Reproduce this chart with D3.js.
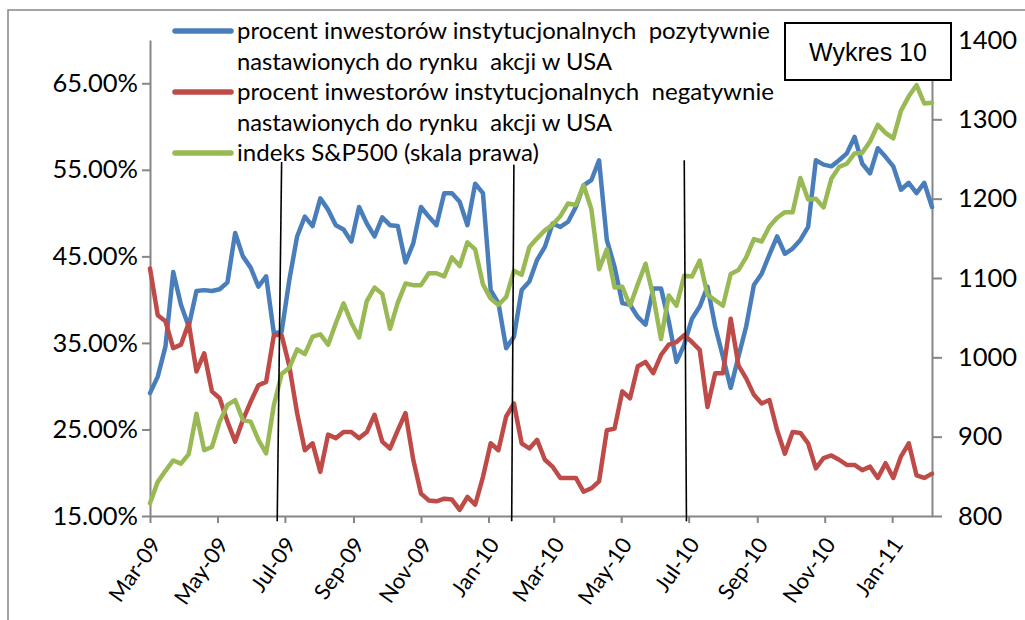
<!DOCTYPE html>
<html>
<head>
<meta charset="utf-8">
<script src="https://cdn.jsdelivr.net/npm/d3@7"></script>
<style>
  html, body { margin: 0; padding: 0; background: #ffffff; }
  svg { display: block; }
</style>
</head>
<body>
<svg id="chart" width="1025" height="620"></svg>
<script>
// ---------- data (weekly observations) ----------
const startDate = "2009-03-01";       // first weekly observation on the date axis
const axisEndDate = "2011-02-06";     // end of the date axis

// percent of institutional investors bullish on US equities (left axis)
const bullish = [
  29.2, 31.1, 34.6, 43.2, 39.4, 36.9, 41.0, 41.1, 41.0, 41.2,
  42.0, 47.7, 45.0, 43.7, 41.5, 42.7, 36.1, 36.3, 42.3, 47.3,
  49.6, 48.5, 51.7, 50.4, 48.6, 48.1, 46.7, 50.7, 48.8, 47.3,
  49.5, 48.6, 48.5, 44.3, 46.5, 50.7, 49.6, 48.6, 52.3, 52.3,
  51.3, 48.6, 53.4, 52.3, 41.1, 39.6, 34.4, 35.7, 41.1, 42.1,
  44.6, 46.1, 48.8, 48.4, 49.0, 50.7, 53.2, 53.8, 56.1, 46.9,
  43.8, 39.6, 39.4, 38.0, 37.1, 41.3, 41.3, 37.5, 32.8, 34.8,
  37.8, 39.2, 41.5, 36.9, 33.4, 29.8, 33.4, 36.9, 41.7, 43.0,
  45.2, 47.3, 45.3, 45.9, 46.9, 48.4, 56.1, 55.6, 55.4, 56.1,
  56.9, 58.8, 55.7, 54.6, 57.5, 56.5, 55.4, 52.7, 53.5, 52.3,
  53.5, 50.7
];

// percent of institutional investors bearish on US equities (left axis)
const bearish = [
  43.6, 38.2, 37.5, 34.4, 34.8, 37.3, 31.7, 33.8, 29.4, 28.6,
  25.9, 23.6, 26.1, 28.2, 30.1, 30.5, 35.9, 35.9, 32.3, 26.9,
  22.6, 23.4, 20.1, 24.4, 24.0, 24.7, 24.7, 24.0, 24.7, 26.7,
  23.6, 22.8, 24.9, 26.9, 21.5, 17.6, 16.8, 16.7, 17.0, 16.9,
  15.7, 17.2, 16.3, 19.5, 23.4, 22.6, 26.5, 28.0, 23.4, 22.8,
  23.8, 21.5, 20.7, 19.4, 19.4, 19.4, 17.8, 18.2, 19.0, 24.9,
  25.1, 29.4, 28.6, 32.3, 32.8, 31.5, 33.6, 34.8, 35.1, 35.9,
  35.1, 34.2, 27.6, 31.5, 31.5, 37.8, 32.4, 30.9, 29.0, 28.0,
  28.4, 24.9, 22.2, 24.7, 24.6, 23.4, 20.5, 21.7, 22.0, 21.5,
  20.9, 20.9, 20.3, 20.7, 19.4, 21.1, 19.4, 21.9, 23.4, 19.7,
  19.4, 19.9
];

// S&P 500 index (right axis)
const sp500 = [
  816, 843, 857, 870, 866, 878, 929, 883, 887, 919,
  940, 946, 921, 919, 896, 879, 940, 979, 987, 1010,
  1004, 1026, 1029, 1016, 1043, 1068, 1044, 1025, 1071, 1088,
  1080, 1036, 1069, 1093, 1091, 1091, 1106, 1106, 1102, 1126,
  1115, 1145, 1136, 1092, 1074, 1066, 1076, 1109, 1104, 1139,
  1150, 1160, 1167, 1178, 1194, 1192, 1217, 1187, 1111, 1136,
  1088, 1089, 1065, 1092, 1118, 1077, 1023, 1078, 1065, 1103,
  1102, 1122, 1079, 1072, 1065, 1105, 1110, 1126, 1149, 1146,
  1165, 1176, 1183, 1183, 1226, 1199, 1200, 1189, 1225, 1240,
  1244, 1257, 1258, 1272, 1293, 1283, 1276, 1311, 1329, 1343,
  1320, 1321
];

const seriesNames = [
  ["procent inwestorów instytucjonalnych  pozytywnie", "nastawionych do rynku  akcji w USA"],
  ["procent inwestorów instytucjonalnych  negatywnie", "nastawionych do rynku  akcji w USA"],
  ["indeks S&P500 (skala prawa)"]
];
const seriesColors = ["#4A7EBB", "#BE4B48", "#98B954"];

const leftTicks = [15, 25, 35, 45, 55, 65];
const leftMax = 70;
const rightTicks = [800, 900, 1000, 1100, 1200, 1300, 1400];
const chartTitle = "Wykres 10";

// hand-drawn vertical marker lines (top/bottom in axis units)
const markers = [
  { top: ["2009-06-28", 55.9], bottom: ["2009-06-24", 14.4] },
  { top: ["2010-01-24", 55.6], bottom: ["2010-01-22", 14.4] },
  { top: ["2010-06-27", 56.1], bottom: ["2010-06-29", 14.4] }
];

// ---------- drawing ----------
const svg = d3.select("#chart");
const W = 1025, H = 620;
const plot = { left: 150, right: 932, top: 40, bottom: 516 };
const font = "Lato, 'Open Sans', sans-serif";
const axisColor = "#868686";

const parse = d3.utcParse("%Y-%m-%d");
const t0 = parse(startDate);
const dates = sp500.map((_, i) => d3.utcDay.offset(t0, 7 * i));

const x = d3.scaleUtc().domain([t0, parse(axisEndDate)]).range([plot.left, plot.right]);
const yL = d3.scaleLinear().domain([leftTicks[0], leftMax]).range([plot.bottom, plot.top]);
const yR = d3.scaleLinear().domain([rightTicks[0], rightTicks[rightTicks.length - 1]]).range([plot.bottom, plot.top]);

svg.append("rect").attr("width", W).attr("height", H).attr("fill", "#fff");
// outer chart border
svg.append("rect").attr("x", 8).attr("y", 10).attr("width", 1100).attr("height", 700)
  .attr("fill", "none").attr("stroke", axisColor).attr("stroke-width", 1.5);

// left axis
const gL = svg.append("g").attr("transform", `translate(${plot.left},0)`)
  .call(d3.axisLeft(yL).tickValues(leftTicks).tickSize(8).tickSizeOuter(0)
    .tickFormat(d => d3.format(".2f")(d) + "%"));
// right axis
const gR = svg.append("g").attr("transform", `translate(${plot.right},0)`)
  .call(d3.axisRight(yR).tickValues(rightTicks).tickSize(10).tickSizeOuter(0)
    .tickFormat(d3.format("d")));
// bottom axis
const gB = svg.append("g").attr("transform", `translate(0,${plot.bottom})`)
  .call(d3.axisBottom(x).ticks(d3.utcMonth.every(2)).tickSize(7).tickSizeOuter(0)
    .tickFormat(d3.utcFormat("%b-%y")));

[gL, gR, gB].forEach(g => {
  g.select(".domain").attr("stroke", axisColor).attr("stroke-width", 2);
  g.selectAll(".tick line").attr("stroke", axisColor).attr("stroke-width", 2);
  g.selectAll("text").attr("fill", "#000").attr("font-family", font);
});
gL.selectAll("text").attr("font-size", 25.5).attr("x", -12);
gR.selectAll("text").attr("font-size", 25.5).attr("x", 26);
gB.selectAll("text").attr("font-size", 22)
  .attr("text-anchor", "end")
  .attr("dy", "0.35em")
  .attr("transform", "translate(5,24) rotate(-55)")
  .attr("y", 0).attr("x", 0);

// series lines
const lineL = d3.line().x((d, i) => x(dates[i])).y(d => yL(d));
const lineR = d3.line().x((d, i) => x(dates[i])).y(d => yR(d));
const paths = [[bullish, lineL], [bearish, lineL], [sp500, lineR]];
paths.forEach(([vals, gen], k) => {
  svg.append("path").datum(vals).attr("d", gen)
    .attr("fill", "none").attr("stroke", seriesColors[k])
    .attr("stroke-width", 4.5).attr("stroke-linejoin", "round").attr("stroke-linecap", "round");
});

// marker lines
markers.forEach(m => {
  svg.append("line")
    .attr("x1", x(parse(m.top[0]))).attr("y1", yL(m.top[1]))
    .attr("x2", x(parse(m.bottom[0]))).attr("y2", yL(m.bottom[1]))
    .attr("stroke", "#000").attr("stroke-width", 1.6);
});

// legend
const legX = 175, legY0 = 31, legStep = 61, lineGap = 30.5;
const widths = [[533, 375], [537, 375], [302]];
seriesNames.forEach((lines, k) => {
  const y0 = legY0 + k * legStep;
  svg.append("line").attr("x1", legX).attr("x2", legX + 56).attr("y1", y0).attr("y2", y0)
    .attr("stroke", seriesColors[k]).attr("stroke-width", 5.5).attr("stroke-linecap", "round");
  lines.forEach((t, j) => {
    svg.append("text").attr("x", legX + 62).attr("y", y0 + 8 + j * lineGap)
      .attr("font-family", font).attr("font-size", 23).attr("fill", "#000")
      .attr("textLength", widths[k][j]).attr("lengthAdjust", "spacingAndGlyphs")
      .style("white-space", "pre")
      .text(t);
  });
});

// title box
svg.append("rect").attr("x", 785).attr("y", 23).attr("width", 166).attr("height", 57)
  .attr("fill", "#fff").attr("stroke", "#000").attr("stroke-width", 2);
svg.append("text").attr("x", 868).attr("y", 61).attr("text-anchor", "middle")
  .attr("font-family", "'Liberation Sans', Arial, sans-serif").attr("font-size", 25)
  .attr("fill", "#000").text(chartTitle);
</script>
</body>
</html>
